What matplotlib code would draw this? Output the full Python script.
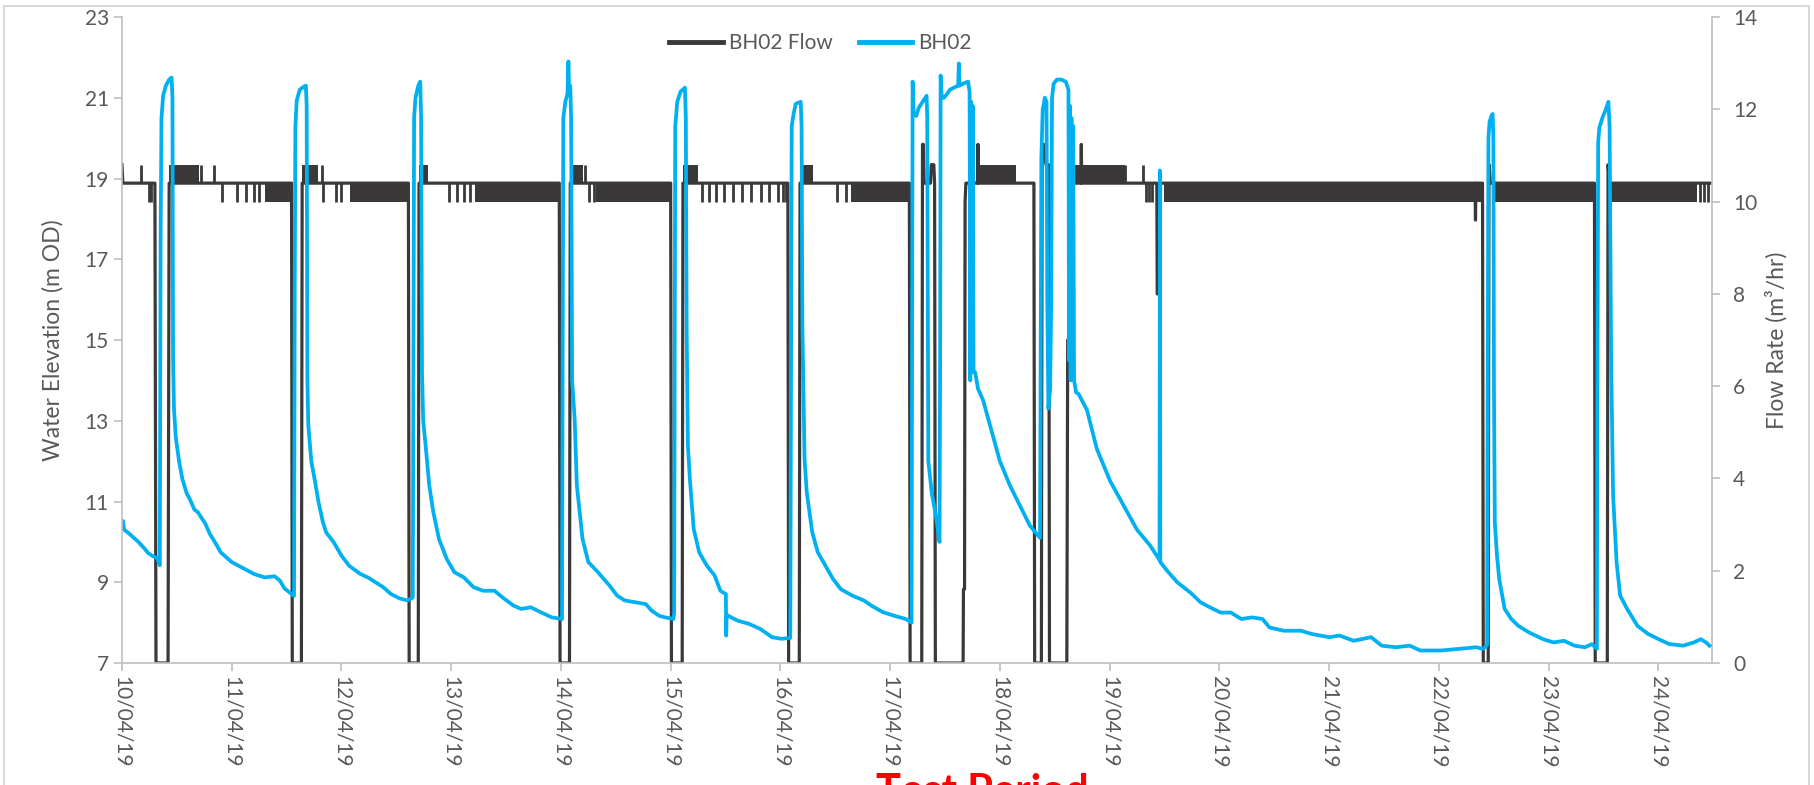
import numpy as np
import matplotlib.pyplot as plt
import matplotlib.dates as mdates
from matplotlib.lines import Line2D
from matplotlib.patches import Rectangle

plt.rcParams["font.family"] = ["Lato", "DejaVu Sans"]

start = np.datetime64("2019-04-10T00:00")
end_day = 14.49

# BH02 water level, days after 10/04/19 00:00 and m OD
bh02_days = [
    0.000, 0.008, 0.020, 0.060, 0.100, 0.150, 0.200, 0.240, 0.280, 0.320, 0.345,
    0.352, 0.360, 0.375, 0.400, 0.430, 0.452, 0.460, 0.466, 0.474, 0.490, 0.520,
    0.550, 0.590, 0.620, 0.660, 0.690, 0.760, 0.800, 0.850, 0.900, 1.000, 1.090,
    1.200, 1.300, 1.390, 1.440, 1.480, 1.540, 1.568, 1.574, 1.580, 1.592, 1.620,
    1.660, 1.676, 1.683, 1.690, 1.698, 1.710, 1.725, 1.755, 1.790, 1.830, 1.860,
    1.930, 2.000, 2.070, 2.170, 2.240, 2.310, 2.380, 2.450, 2.530, 2.600, 2.650,
    2.656, 2.662, 2.675, 2.700, 2.718, 2.726, 2.734, 2.745, 2.767, 2.800, 2.837,
    2.889, 2.959, 3.029, 3.116, 3.203, 3.290, 3.395, 3.465, 3.569, 3.639, 3.726,
    3.814, 3.918, 4.010, 4.016, 4.022, 4.040, 4.060, 4.068, 4.074, 4.085, 4.093,
    4.102, 4.125, 4.145, 4.197, 4.250, 4.337, 4.442, 4.512, 4.581, 4.686, 4.773,
    4.826, 4.895, 4.950, 5.025, 5.032, 5.037, 5.042, 5.060, 5.090, 5.130, 5.138,
    5.146, 5.157, 5.175, 5.210, 5.260, 5.330, 5.400, 5.453, 5.503, 5.506, 5.511,
    5.523, 5.610, 5.714, 5.819, 5.923, 6.010, 6.090, 6.097, 6.103, 6.120, 6.140,
    6.185, 6.193, 6.200, 6.220, 6.240, 6.290, 6.341, 6.410, 6.480, 6.550, 6.655,
    6.760, 6.830, 6.934, 7.038, 7.143, 7.195, 7.200, 7.205, 7.214, 7.238, 7.260,
    7.284, 7.320, 7.332, 7.338, 7.348, 7.380, 7.420, 7.450, 7.456, 7.460, 7.470,
    7.490, 7.520, 7.545, 7.580, 7.620, 7.626, 7.632, 7.665, 7.710, 7.724, 7.730,
    7.738, 7.745, 7.753, 7.760, 7.775, 7.800, 7.848, 7.909, 8.000, 8.091, 8.183,
    8.274, 8.366, 8.372, 8.378, 8.390, 8.410, 8.425, 8.432, 8.442, 8.458, 8.468,
    8.475, 8.490, 8.520, 8.560, 8.600, 8.625, 8.630, 8.638, 8.645, 8.652, 8.660,
    8.668, 8.676, 8.695, 8.716, 8.793, 8.884, 9.006, 9.128, 9.250, 9.372, 9.455,
    9.458, 9.462, 9.520, 9.616, 9.738, 9.830, 9.914, 10.010, 10.105, 10.200,
    10.297, 10.393, 10.457, 10.585, 10.744, 10.840, 11.000, 11.096, 11.224,
    11.383, 11.479, 11.607, 11.735, 11.831, 12.022, 12.182, 12.342, 12.406,
    12.440, 12.446, 12.452, 12.462, 12.480, 12.490, 12.497, 12.502, 12.510,
    12.530, 12.550, 12.600, 12.660, 12.725, 12.820, 12.950, 13.045, 13.140,
    13.236, 13.332, 13.396, 13.440, 13.446, 13.452, 13.462, 13.490, 13.520,
    13.545, 13.556, 13.570, 13.588, 13.620, 13.652, 13.716, 13.810, 13.907,
    14.003, 14.100, 14.227, 14.323, 14.387, 14.435, 14.466,
]
bh02_level = [
    10.45, 10.52, 10.30, 10.22, 10.12, 10.00, 9.85, 9.72, 9.65, 9.60, 9.42,
    17.5, 20.5, 21.05, 21.30, 21.45, 21.50, 21.0, 14.5, 13.3, 12.6, 12.0,
    11.56, 11.2, 11.05, 10.8, 10.74, 10.45, 10.2, 9.98, 9.74, 9.50, 9.37,
    9.21, 9.12, 9.15, 9.04, 8.85, 8.72, 8.66, 16.0, 20.25, 20.93, 21.20,
    21.28, 21.30, 20.8, 14.0, 12.9, 12.5, 12.0, 11.56, 11.0, 10.5, 10.24,
    9.99, 9.66, 9.41, 9.21, 9.12, 9.00, 8.88, 8.71, 8.60, 8.55, 8.62,
    15.0, 20.5, 21.0, 21.3, 21.4, 20.5, 14.2, 13.0, 12.39, 11.4, 10.74,
    10.07, 9.58, 9.25, 9.12, 8.88, 8.79, 8.79, 8.63, 8.42, 8.34, 8.38,
    8.26, 8.13, 8.09, 15.0, 20.5, 20.9, 21.1, 21.9, 21.2, 21.3, 20.5,
    14.0, 13.05, 11.4, 10.07, 9.50, 9.25, 8.92, 8.67, 8.55, 8.50, 8.46,
    8.30, 8.17, 8.13, 8.09, 8.25, 15.0, 20.3, 20.9, 21.15, 21.25, 20.5,
    15.2, 12.39, 11.56, 10.32, 9.74, 9.41, 9.17, 8.79, 8.71, 7.68, 8.20,
    8.17, 8.05, 7.97, 7.84, 7.64, 7.60, 7.62, 15.0, 20.3, 20.6, 20.85,
    20.9, 20.3, 15.4, 12.06, 11.23, 10.24, 9.74, 9.41, 9.08, 8.83, 8.67,
    8.55, 8.42, 8.26, 8.17, 8.09, 8.00, 15.0, 21.4, 20.6, 20.55, 20.75,
    20.85, 21.0, 21.05, 20.5, 12.0, 11.2, 10.6, 10.0, 15.0, 21.55, 21.0,
    21.0, 21.1, 21.2, 21.25, 21.3, 21.85, 21.3, 21.35, 21.4, 21.15, 14.0,
    20.9, 14.3, 20.8, 14.2, 14.2, 13.8, 13.5, 12.9, 12.0, 11.4, 10.9,
    10.4, 10.1, 15.0, 19.5, 20.7, 21.0, 20.9, 16.0, 13.3, 13.8, 16.0,
    21.0, 21.35, 21.45, 21.45, 21.4, 21.2, 14.5, 20.8, 14.0, 20.5, 14.2,
    20.3, 14.0, 13.7, 13.67, 13.27, 12.3, 11.5, 10.9, 10.3, 9.9, 9.55,
    19.2, 9.5, 9.3, 9.0, 8.74, 8.5, 8.38, 8.25, 8.25, 8.09,
    8.13, 8.09, 7.88, 7.80, 7.80, 7.72, 7.64, 7.68, 7.55,
    7.64, 7.43, 7.39, 7.43, 7.31, 7.31, 7.35, 7.39, 7.35,
    7.45, 15.0, 20.0, 20.4, 20.56, 20.6, 20.0, 13.95, 10.48,
    9.66, 9.08, 8.34, 8.09, 7.92, 7.76, 7.59, 7.51, 7.55,
    7.43, 7.39, 7.47, 7.35, 15.0, 19.9, 20.25, 20.5, 20.7,
    20.9, 20.3, 14.5, 11.14, 9.49, 8.67, 8.34, 7.92, 7.72,
    7.59, 7.47, 7.43, 7.51, 7.59, 7.51, 7.43,
]

# BH02 pump flow, days and m3/hr (main steps, stops and restarts)
flow_days = [
    0.000, 0.008, 0.300, 0.310, 0.420, 0.430, 1.545, 1.552, 1.635, 1.642,
    2.610, 2.617, 2.700, 2.707, 3.985, 3.992, 4.078, 4.085, 5.000, 5.007,
    5.105, 5.112, 6.068, 6.075, 6.172, 6.179, 7.175, 7.182, 7.288, 7.295,
    7.302, 7.310, 7.368, 7.375, 7.398, 7.405, 7.412, 7.665, 7.668, 7.678,
    7.683, 7.690, 7.795, 7.800, 7.805, 8.310, 8.317, 8.378, 8.385, 8.400,
    8.420, 8.445, 8.452, 8.610, 8.618, 8.626, 8.632, 8.738, 8.742, 8.746,
    9.430, 9.434, 9.460, 9.464, 12.330, 12.334, 12.338, 12.398, 12.405,
    12.450, 12.457, 12.470, 13.418, 13.425, 13.535, 13.542, 13.555, 14.490,
]
flow_rate = [
    10.8, 10.4, 10.4, 0.0, 0.0, 10.4, 10.4, 0.0, 0.0, 10.4,
    10.4, 0.0, 0.0, 10.4, 10.4, 0.0, 0.0, 10.4, 10.4, 0.0,
    0.0, 10.4, 10.4, 0.0, 0.0, 10.4, 10.4, 0.0, 0.0, 11.24,
    11.24, 10.4, 10.4, 10.8, 10.8, 10.4, 0.0, 0.0, 1.6, 1.6,
    10.0, 10.4, 10.4, 11.24, 10.4, 10.4, 0.0, 0.0, 11.24, 11.24,
    10.8, 10.8, 0.0, 0.0, 7.0, 7.0, 10.4, 10.4, 11.24, 10.4,
    10.4, 8.0, 8.0, 10.4, 10.4, 9.6, 10.4, 10.4, 0.0,
    0.0, 10.8, 10.4, 10.4, 0.0, 0.0, 10.8, 10.4, 10.4,
]

# periods where the flow reading flickers quickly between two values
chatter_high = [(0.43, 0.70), (1.642, 1.79), (2.707, 2.79), (4.085, 4.20),
                (5.112, 5.25), (6.179, 6.30), (7.78, 8.15), (8.66, 9.14)]
chatter_low = [(1.30, 1.545), (2.08, 2.61), (3.22, 3.985), (4.32, 5.0),
               (6.64, 7.175), (9.50, 12.398), (12.48, 13.418), (13.57, 14.35)]
flow_dips = [0.247, 0.265, 0.91, 1.05, 1.13, 1.20, 1.25, 1.83, 1.946, 2.0,
             2.98, 3.05, 3.12, 3.17, 4.26, 4.30, 5.29, 5.35, 5.41, 5.49, 5.57,
             5.65, 5.73, 5.82, 5.90, 5.98, 6.02, 6.05, 6.52, 6.60, 9.33, 9.36,
             9.39, 14.38, 14.42, 14.45]
flow_spikes = [0.174, 0.72, 0.84, 1.82, 4.22, 9.14, 9.30]


def to_time(days):
    secs = np.round(np.asarray(days, dtype=float) * 86400).astype("int64")
    return start + secs.astype("timedelta64[s]")


black = "#3A3838"
blue = "#00B0F0"
grey = "#595959"
axis_grey = "#BFBFBF"

fig = plt.figure(figsize=(18.15, 7.85), dpi=100)
ax = fig.add_axes([0.0672, 0.1554, 0.8761, 0.8229])
ax2 = ax.twinx()

# flow on the secondary axis
ax2.plot(to_time(flow_days), flow_rate, color=black, lw=2.3)
for a, b in chatter_high:
    ax2.fill_between(to_time([a, b]), 10.4, 10.8, color=black, lw=0)
for a, b in chatter_low:
    ax2.fill_between(to_time([a, b]), 10.0, 10.4, color=black, lw=0)
ax2.vlines(to_time(flow_dips), 10.0, 10.4, color=black, lw=2)
ax2.vlines(to_time(flow_spikes), 10.4, 10.8, color=black, lw=2)

# water level drawn on top
ax.plot(to_time(bh02_days), bh02_level, color=blue, lw=2.7)
ax.set_zorder(ax2.get_zorder() + 1)
ax.patch.set_visible(False)

ax.set_xlim(to_time([0, end_day]))
ax.set_ylim(7, 23)
ax.set_yticks(range(7, 24, 2))
ax2.set_ylim(0, 14)
ax2.set_yticks(range(0, 15, 2))

ax.xaxis.set_major_locator(mdates.DayLocator())
ax.xaxis.set_major_formatter(mdates.DateFormatter("%d/%m/%y"))
ax.tick_params(axis="x", labelrotation=-90)

for a in (ax, ax2):
    for s in a.spines.values():
        s.set_visible(False)
    a.tick_params(colors=axis_grey, labelcolor=grey, labelsize=15,
                  length=6, width=1.2)
ax2.tick_params(axis="y", pad=9)
ax.spines["left"].set_visible(True)
ax.spines["bottom"].set_visible(True)
ax2.spines["right"].set_visible(True)
for s in (ax.spines["left"], ax.spines["bottom"], ax2.spines["right"]):
    s.set_color(axis_grey)
    s.set_linewidth(1.2)

ax.set_ylabel("Water Elevation (m OD)", color=grey, fontsize=16.5, labelpad=15)
ax2.set_ylabel("Flow Rate (m³/hr)", color=grey, fontsize=16.5, labelpad=6)

handles = [Line2D([], [], color=black, lw=3.5), Line2D([], [], color=blue, lw=3.5)]
ax.legend(handles, ["BH02 Flow", "BH02"], ncol=2, loc="center",
          bbox_to_anchor=(0.4393, 0.960), frameon=False, fontsize=15,
          handlelength=2.55, handletextpad=0.3, columnspacing=1.25,
          labelcolor=grey)

# chart area border and the caption that the crop cuts through
fig.add_artist(Rectangle((0.0022, -0.05), 0.9945, 1.0424, transform=fig.transFigure,
                         fill=False, edgecolor="#D9D9D9", lw=1.5))
fig.text(0.541, 0.0153, "Test Period", color="#FF0000", fontsize=30,
         fontweight="bold", ha="center", va="top")

fig.savefig("out.png", dpi=100)
